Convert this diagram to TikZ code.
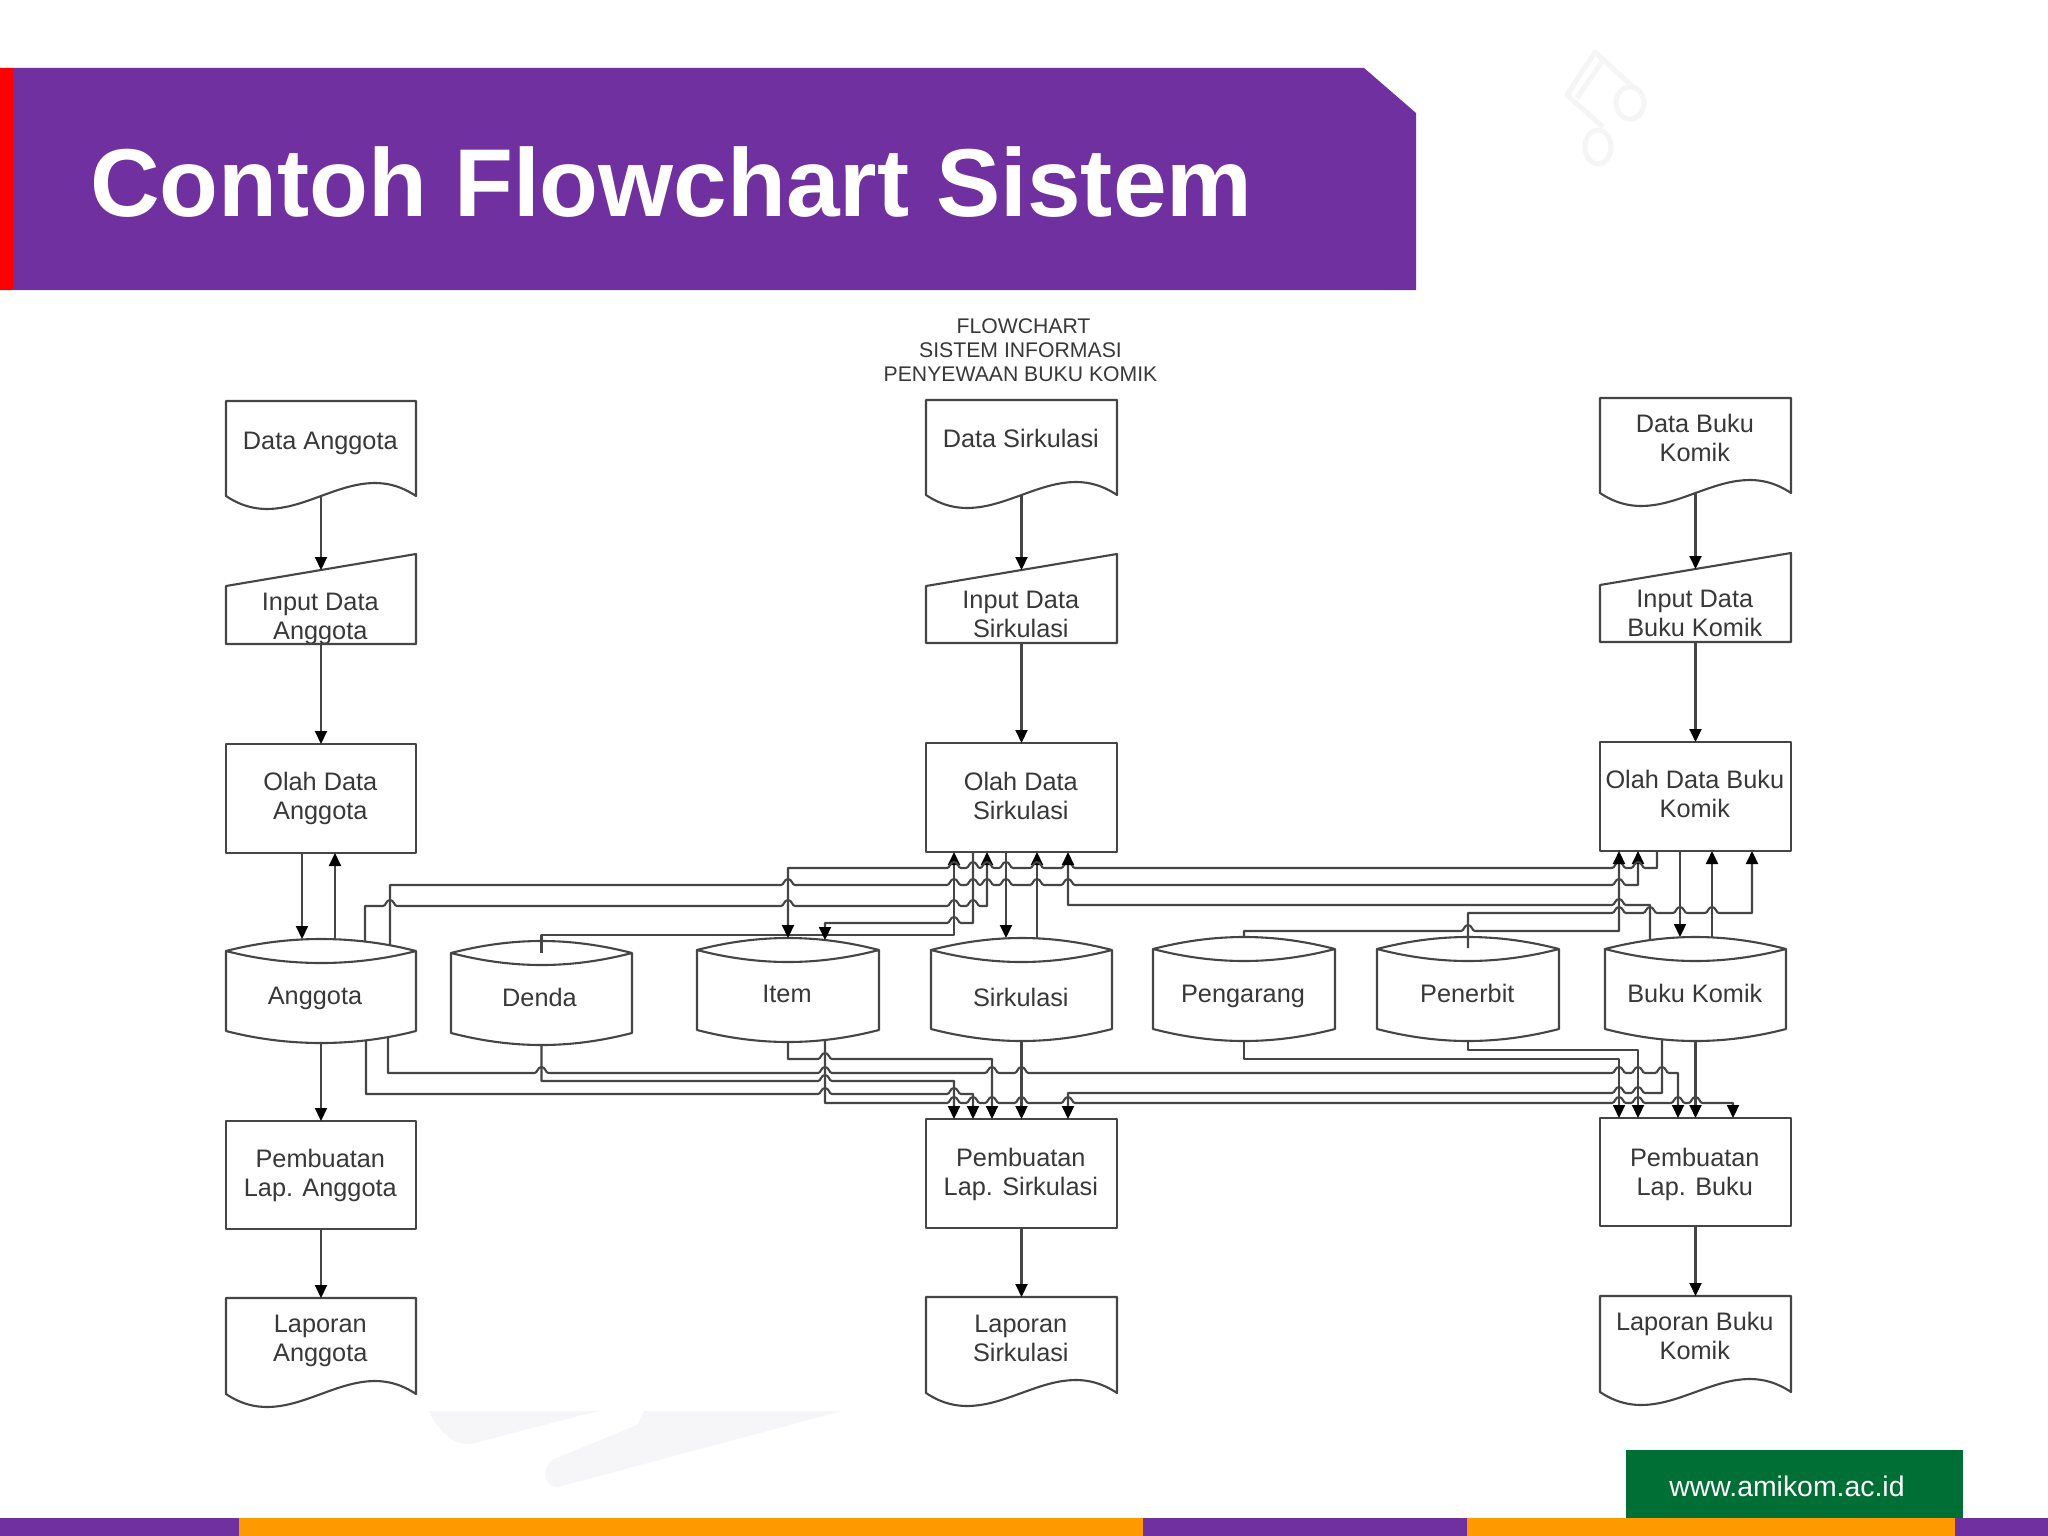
\documentclass[tikz,border=0pt]{standalone}
\usepackage{fontspec}
\setmainfont{Liberation Sans}
\usetikzlibrary{arrows.meta}
\definecolor{bannerpurple}{HTML}{70309F}
\definecolor{barorange}{HTML}{FF9900}
\definecolor{webgreen}{HTML}{006F35}
\definecolor{inkline}{HTML}{454545}
\definecolor{inktext}{HTML}{383838}
\definecolor{faintmark}{HTML}{F6F5F7}
\definecolor{faintnote}{HTML}{F5F5F5}
\tikzset{
  basenode/.style={inner sep=0pt,outer sep=0pt,draw=none},
  lab/.style={align=center,text=inktext,inner sep=0pt,font=\fontsize{25.3}{29}\selectfont},
  outline/.style={draw=inkline,line width=2.1pt,line join=round},
  link/.style={draw=inkline,line width=2.1pt,line join=round},
  flow/.style={link,-{Triangle[width=12pt,length=13pt,black]}}
}
\newcommand\flownode[8]{\node[basenode,minimum width={(#3-#2)*1pt},minimum height={(#5-#4)*1pt},label={[lab,xshift=#6pt,yshift=#7pt]center:{#8}}] (#1) at ({(#2+#3)/2},{(#4+#5)/2}) {};}
\newcommand\procnode[7]{\flownode{#1}{#2}{#3}{#4}{#5}{-0.7}{#6}{#7}\draw[outline] (#1.south west) rectangle (#1.north east);}
\newcommand\docnode[7]{\flownode{#1}{#2}{#3}{#4}{#5}{-0.7}{#6}{#7}\draw[outline] (#1.north east) -- (#1.north west) -- (#1.south west) .. controls +(67,45) and +(-67,-45) .. (#1.south east) -- cycle;}
\newcommand\inputnode[7]{\flownode{#1}{#2}{#3}{#4}{#5}{-0.7}{#6}{#7}\draw[outline] (#1.south west) -- ([yshift=-16pt]#1.north west) -- ([yshift=16pt]#1.north east) -- (#1.south east) -- cycle;}
\newcommand\cylnode[8]{\flownode{#1}{#2}{#3}{#4}{#5}{#6}{#7}{#8}\draw[outline] ([yshift=-12pt]#1.north west) .. controls +(62,-16) and +(-62,-16) .. ([yshift=-12pt]#1.north east) .. controls +(-62,16) and +(62,16) .. ([yshift=-12pt]#1.north west) -- ([yshift=12pt]#1.south west) .. controls +(62,16) and +(-62,16) .. ([yshift=12pt]#1.south east) -- ([yshift=-12pt]#1.north east);}
\newcommand\hopsR[2]{\foreach \j in {#2} { -- ({\j-7},#1) .. controls ({\j-4},#1) and ({\j-4},{#1-6}) .. ({\j},{#1-6}) .. controls ({\j+4},{#1-6}) and ({\j+4},#1) .. ({\j+7},#1) }}
\newcommand\hopsL[2]{\foreach \j in {#2} { -- ({\j+7},#1) .. controls ({\j+4},#1) and ({\j+4},{#1-6}) .. ({\j},{#1-6}) .. controls ({\j-4},{#1-6}) and ({\j-4},#1) .. ({\j-7},#1) }}
\begin{document}
\begin{tikzpicture}[x=1pt,y=-1pt]
\useasboundingbox (0,0) rectangle (2048,1536);
\fill[white] (0,0) rectangle (2048,1536);
% faint background marks
\fill[faintmark] (429,1411) -- (598,1411) -- (474,1443) .. controls (455,1448) and (437,1430) .. (429,1411) -- cycle;
\fill[faintmark] (644,1411) -- (842,1411) -- (558,1487) .. controls (545,1487) and (540,1470) .. (552,1460) -- (637,1425) -- cycle;
\draw[faintnote,line width=5pt,line join=round] (1633,87) -- (1595,52) -- (1567,95) -- (1603,127);
\draw[faintnote,line width=5pt] (1603,60) -- (1577,98);
\draw[faintnote,line width=5pt] (1630,103) ellipse (14pt and 16pt) (1598,147) ellipse (13pt and 17pt);
% banner
\fill[bannerpurple] (0,68) -- (1364,68) -- (1416,113) -- (1416,290) -- (0,290) -- cycle;
\fill[red] (0,68) rectangle (13,290);
\node[anchor=base west,inner sep=0pt,text=white,font=\fontsize{96.4}{110}\selectfont\bfseries] (title) at (90,216) {Contoh Flowchart Sistem};
% bottom bar
\fill[bannerpurple] (0,1518) rectangle (239,1536);
\fill[barorange] (239,1518) rectangle (1143,1536);
\fill[bannerpurple] (1143,1518) rectangle (1467,1536);
\fill[barorange] (1467,1518) rectangle (1955,1536);
\fill[bannerpurple] (1955,1518) rectangle (2048,1536);
\fill[webgreen] (1626,1450) rectangle (1963,1518);
\node[inner sep=0pt,text=white,font=\fontsize{28.4}{32}\selectfont] (web) at (1787,1486) {www.amikom.ac.id};
% heading
\node[align=center,inner sep=0pt,text=inktext,font=\fontsize{21.2}{24}\selectfont] (heading) at (1020.5,350) {\hspace*{6pt}FLOWCHART\\SISTEM INFORMASI\\PENYEWAAN BUKU KOMIK};
% column 1
\docnode{dA}{226}{416}{401}{496}{5}{Data Anggota}
\inputnode{iA}{226}{416}{570}{644}{-12}{Input Data\\Anggota}
\procnode{oA}{226}{416}{744}{853}{0}{Olah Data\\Anggota}
\procnode{pA}{226}{416}{1121}{1229}{0}{Pembuatan\\Lap. Anggota}
\docnode{lA}{226}{416}{1298}{1394}{5}{Laporan\\Anggota}
% column 2
\docnode{dS}{926}{1117}{400}{495}{9}{Data Sirkulasi}
\inputnode{iS}{926}{1117}{570}{643}{-8}{Input Data\\Sirkulasi}
\procnode{oS}{926}{1117}{743}{852}{2}{Olah Data\\Sirkulasi}
\procnode{pS}{926}{1117}{1119}{1228}{-1}{Pembuatan\\Lap. Sirkulasi}
\docnode{lS}{926}{1117}{1297}{1393}{6.5}{Laporan\\Sirkulasi}
% column 3
\docnode{dB}{1600}{1791}{398}{493}{7.5}{Data Buku\\Komik}
\inputnode{iB}{1600}{1791}{569}{642}{-8}{Input Data\\Buku Komik}
\procnode{oB}{1600}{1791}{742}{851}{2.6}{Olah Data Buku\\Komik}
\procnode{pB}{1600}{1791}{1118}{1226}{-2.6}{Pembuatan\\Lap. Buku}
\docnode{lB}{1600}{1791}{1296}{1392}{8}{Laporan Buku\\Komik}
% data stores
\cylnode{dbAng}{226}{416}{939}{1043}{-6}{-7}{Anggota}
\cylnode{dbDenda}{451}{632}{941}{1045}{-2}{-4}{Denda}
\cylnode{dbItem}{697}{879}{938}{1042}{-1}{-4}{Item}
\cylnode{dbSir}{931}{1112}{938}{1041}{-0.7}{-8}{Sirkulasi}
\cylnode{dbPeng}{1153}{1335}{937}{1041}{-1}{-7.5}{Pengarang}
\cylnode{dbPen}{1377}{1559}{937}{1041}{-0.7}{-4}{Penerbit}
\cylnode{dbBuku}{1605}{1786}{937}{1041}{-0.7}{-4}{Buku Komik}
% straight column connectors
\draw[flow] (dA.south) -- (iA.north);
\draw[flow] (iA.south) -- (oA.north);
\draw[flow] ([xshift=-19pt]oA.south) -- ([xshift=-19pt]dbAng.north);
\draw[flow] ([xshift=14pt]dbAng.north) -- ([xshift=14pt]oA.south);
\draw[flow] (dbAng.south) -- (pA.north);
\draw[flow] (pA.south) -- (lA.north);
\draw[flow] (dS.south) -- (iS.north);
\draw[flow] (iS.south) -- (oS.north);
\draw[flow] ([xshift=-15.5pt]oS.south) -- ([xshift=-15.5pt]dbSir.north);
\draw[flow] ([xshift=15.5pt]dbSir.north) -- ([xshift=15.5pt]oS.south);
\draw[flow] (dbSir.south) -- (pS.north);
\draw[flow] (pS.south) -- (lS.north);
\draw[flow] (dB.south) -- (iB.north);
\draw[flow] (iB.south) -- (oB.north);
\draw[flow] ([xshift=-15.5pt]oB.south) -- ([xshift=-15.5pt]dbBuku.north);
\draw[flow] ([xshift=16.5pt]dbBuku.north) -- ([xshift=16.5pt]oB.south);
\draw[flow] (dbBuku.south) -- (pB.north);
\draw[flow] (pB.south) -- (lB.north);
% upper bus
\draw[flow] ([xshift=69pt,yshift=-6pt]dbAng.north) -- (390,885) \hopsR{885}{788,954,973,987,1006,1037,1068,1619} -- (1638,885) -- ([xshift=-57.5pt]oB.south);
\draw[flow] ([xshift=44pt,yshift=-3pt]dbAng.north) -- (365,906) \hopsR{906}{390,788,954,973} -- (987,906) -- ([xshift=-34.5pt]oS.south);
\draw[flow] ([yshift=-12pt]dbDenda.north) -- (541.5,935) -- (954,935) -- ([xshift=-67.5pt]oS.south);
\draw[flow] ([xshift=-48.5pt]oS.south) -- (973,923) \hopsL{923}{954} -- (825,923) -- ([xshift=37pt,yshift=-2pt]dbItem.north);
\draw[flow] ([xshift=-38.5pt]oB.south) -- (1657,868) \hopsL{868}{1638,1619,1068,1037,1006,987,973,954} -- (788,868) -- (dbItem.north);
\draw[flow] ([xshift=-45.5pt,yshift=-3pt]dbBuku.north) -- (1650,905) \hopsL{905}{1619} -- (1068,905) -- ([xshift=46.5pt]oS.south);
\draw[flow] ([yshift=-11pt]dbPen.north) -- (1468,913) \hopsR{913}{1619,1650,1680,1712} -- (1752,913) -- ([xshift=56.5pt]oB.south);
\draw[flow] (dbPeng.north) -- (1244,931) \hopsR{931}{1468} -- (1619,931) -- ([xshift=-76.5pt]oB.south);
% lower bus
\draw[flow] (dbItem.south) -- (788,1059) \hopsR{1059}{825} -- (992,1059) -- ([xshift=-29.5pt]pS.north);
\draw[flow] (dbPeng.south) -- (1244,1059) -- (1619,1059) -- ([xshift=-76.5pt]pB.north);
\draw[flow] ([xshift=67pt,yshift=6pt]dbAng.south) -- (388,1073) \hopsR{1073}{541.5,825,992,1021.5,1619,1638,1662} -- (1678,1073) -- ([xshift=-17.5pt]pB.north);
\draw[flow] (dbDenda.south) -- (541.5,1081) \hopsR{1081}{825} -- (954,1081) -- ([xshift=-67.5pt]pS.north);
\draw[flow] ([xshift=45pt,yshift=3pt]dbAng.south) -- (366,1094) \hopsR{1094}{825,954} -- (973,1094) -- ([xshift=-48.5pt]pS.north);
\draw[flow] ([xshift=37pt,yshift=2pt]dbItem.south) -- (825,1103) \hopsR{1103}{954,973,992,1021.5,1068,1619,1638,1678,1695.5} -- (1733,1103) -- ([xshift=37.5pt]pB.north);
\draw[flow] ([xshift=-33.5pt,yshift=1.5pt]dbBuku.south) -- (1662,1093) \hopsL{1093}{1638,1619} -- (1068,1093) -- ([xshift=46.5pt]pS.north);
\draw[flow] (dbPen.south) -- (1468,1050) -- (1638,1050) -- ([xshift=-57.5pt]pB.north);
\end{tikzpicture}
\end{document}
